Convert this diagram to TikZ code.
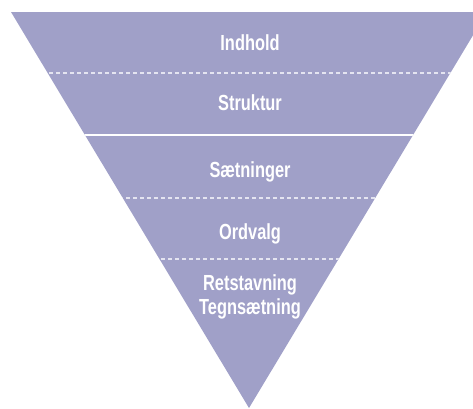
\documentclass[tikz,border=0pt]{standalone}
\usepackage{fontspec}
\usepackage{graphicx}
\setmainfont{Liberation Sans}
\definecolor{funnel}{RGB}{160,160,200}
\definecolor{dashcol}{RGB}{228,228,240}
\tikzset{
  lbl/.style={text=white, anchor=base, inner sep=0pt, font=\fontsize{21}{24}\selectfont\bfseries},
  dashdiv/.style={draw=dashcol, line width=1.1pt, dash pattern=on 4pt off 3pt},
  soliddiv/.style={draw=white, line width=2pt}
}
\newcommand{\cond}[1]{\scalebox{0.78}[1.04]{#1}}
\begin{document}
\begin{tikzpicture}[x=1pt,y=-1pt]
\useasboundingbox (0,0) rectangle (473,408);
\clip (0,0) rectangle (473,408);
\coordinate (tl) at (11,12);
\coordinate (tr) at (487,12);
\coordinate (apex) at (249,408);
\fill[funnel] (tl) -- (tr) -- (apex) -- cycle;
\begin{scope}
  \clip (tl) -- (tr) -- (apex) -- cycle;
  \coordinate (d1l) at (0,73);   \coordinate (d1r) at (473,73);
  \coordinate (s1l) at (0,135);  \coordinate (s1r) at (473,135);
  \coordinate (d2l) at (0,198);  \coordinate (d2r) at (473,198);
  \coordinate (d3l) at (0,259);  \coordinate (d3r) at (473,259);
  \draw[dashdiv] (d1l) -- (d1r);
  \draw[soliddiv] (s1l) -- (s1r);
  \draw[dashdiv] (d2l) -- (d2r);
  \draw[dashdiv] (d3l) -- (d3r);
\end{scope}
\node[lbl] (indhold) at (250,50) {\cond{Indhold}};
\node[lbl] (struktur) at (250,110) {\cond{Struktur}};
\node[lbl] (saetninger) at (250,177) {\cond{Sætninger}};
\node[lbl] (ordvalg) at (250,239) {\cond{Ordvalg}};
\node[lbl] (retstavning) at (250,290) {\cond{Retstavning}};
\node[lbl] (tegn) at (250,314) {\cond{Tegnsætning}};
\end{tikzpicture}
\end{document}
